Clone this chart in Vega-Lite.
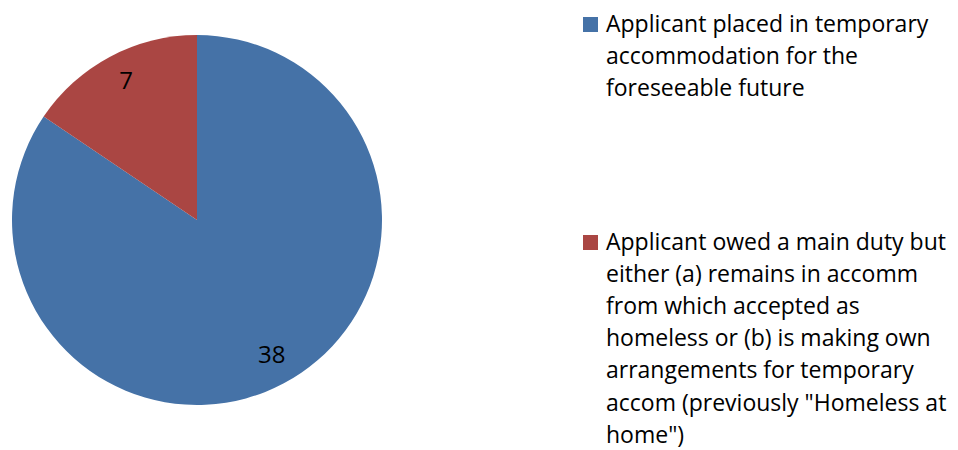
{
  "$schema": "https://vega.github.io/schema/vega-lite/v6.json",
  "width": 394,
  "height": 440,
  "padding": 0,
  "background": "white",
  "config": {"view": {"stroke": null}, "font": "Open Sans"},
  "data": {"values": [
    {"category": "Applicant placed in temporary accommodation for the foreseeable future", "value": 38, "order": 1},
    {"category": "Applicant owed a main duty but either (a) remains in accomm from which accepted as homeless or (b) is making own arrangements for temporary accom (previously \"Homeless at home\")", "value": 7, "order": 2}
  ]},
  "encoding": {
    "theta": {"field": "value", "type": "quantitative", "stack": true},
    "order": {"field": "order", "type": "quantitative"}
  },
  "layer": [
    {
      "mark": {"type": "arc", "outerRadius": 185},
      "encoding": {
        "color": {
          "field": "category", "type": "nominal",
          "sort": {"field": "order"},
          "scale": {"range": ["#4572A7", "#AA4643"]},
          "legend": {
            "title": null,
            "orient": "none",
            "legendX": 579,
            "legendY": 13,
            "symbolType": "square",
            "symbolSize": 225,
            "symbolStrokeWidth": 0,
            "symbolOffset": 0,
            "labelFont": "Open Sans",
            "labelFontSize": 23,
            "labelColor": "#000000",
            "labelLimit": 0,
            "labelOffset": 4,
            "labelBaseline": "alphabetic",
            "rowPadding": 130,
            "labelExpr": "datum.label == 'Applicant placed in temporary accommodation for the foreseeable future' ? ['Applicant placed in temporary', 'accommodation for the', 'foreseeable future'] : ['Applicant owed a main duty but', 'either (a) remains in accomm', 'from which accepted as', 'homeless or (b) is making own', 'arrangements for temporary', 'accom (previously \"Homeless at', 'home\")']",
            "encode": {"labels": {"update": {"dy": {"value": 7}, "lineHeight": {"value": 32.2}}}}
          }
        }
      }
    },
    {
      "mark": {"type": "text", "radius": 155, "fontSize": 24, "font": "Open Sans", "color": "#000000", "dx": 2, "dy": -1},
      "encoding": {"text": {"field": "value", "type": "quantitative"}}
    }
  ]
}
